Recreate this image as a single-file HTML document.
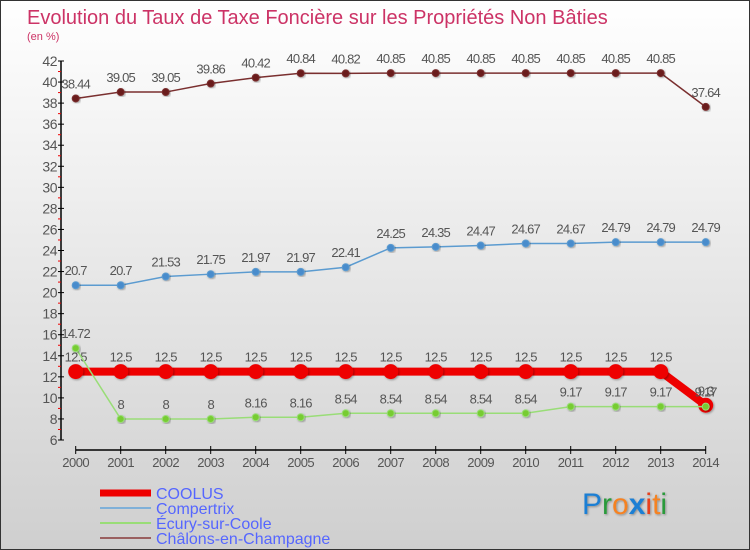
<!DOCTYPE html>
<html><head><meta charset="utf-8"><style>
body{margin:0;}
#wrap{position:relative;width:750px;height:550px;overflow:hidden;font-family:"Liberation Sans",sans-serif;}
</style></head><body>
<div id="wrap">
<svg id="chart" width="750" height="550" xmlns="http://www.w3.org/2000/svg" font-family="'Liberation Sans',sans-serif">
<defs>
<linearGradient id="bg" x1="0" y1="0" x2="0" y2="1"><stop offset="0" stop-color="#ffffff"/><stop offset="1" stop-color="#cfcfcf"/></linearGradient>
<filter id="sh" x="-20%" y="-20%" width="140%" height="140%"><feDropShadow dx="1" dy="1" stdDeviation="1" flood-color="#000" flood-opacity="0.35"/></filter>
</defs>
<rect x="0.5" y="0.5" width="749" height="549" fill="url(#bg)" stroke="#333"/>
<text x="27" y="24" font-size="20" fill="#cc3366">Evolution du Taux de Taxe Foncière sur les Propriétés Non Bâties</text>
<text x="27" y="40" font-size="11" fill="#cc3366">(en %)</text>
<g id="axes"></g>
<g id="series"></g>
<g id="legend"></g>
<g font-size="30" filter="url(#sh)">
<text x="582" y="514"><tspan fill="#1a7fd4">P</tspan><tspan fill="#2a9a3a">r</tspan><tspan fill="#f58220">o</tspan><tspan fill="#1a7fd4" font-weight="bold">x</tspan><tspan fill="#e8401c">i</tspan><tspan fill="#f58220">t</tspan><tspan fill="#2a9a3a">i</tspan></text>
</g>
</svg>
</div>
<script>
const years = [2000,2001,2002,2003,2004,2005,2006,2007,2008,2009,2010,2011,2012,2013,2014];
const coolus = [12.5,12.5,12.5,12.5,12.5,12.5,12.5,12.5,12.5,12.5,12.5,12.5,12.5,12.5,9.3];
const compertrix = [20.7,20.7,21.53,21.75,21.97,21.97,22.41,24.25,24.35,24.47,24.67,24.67,24.79,24.79,24.79];
const ecury = [14.72,8,8,8,8.16,8.16,8.54,8.54,8.54,8.54,8.54,9.17,9.17,9.17,9.17];
const chalons = [38.44,39.05,39.05,39.86,40.42,40.84,40.82,40.85,40.85,40.85,40.85,40.85,40.85,40.85,37.64];
const yTicks = [6,8,10,12,14,16,18,20,22,24,26,28,30,32,34,36,38,40,42];
const seriesNames = ["COOLUS","Compertrix","Écury-sur-Coole","Châlons-en-Champagne"];

const NS="http://www.w3.org/2000/svg";
const x = i => 75.7 + i*45;
const y = v => 440 - (v-6)*(379/36);
function mk(tag, attrs, parent){const e=document.createElementNS(NS,tag);for(const k in attrs)e.setAttribute(k,attrs[k]);parent.appendChild(e);return e;}
const axes=document.getElementById('axes'), sg=document.getElementById('series'), lg=document.getElementById('legend');

let yl=mk('line',{x1:61,y1:y(42),x2:61,y2:y(6),stroke:'#000','stroke-width':1.5},axes);


yTicks.forEach(t=>{
  mk('line',{x1:58,y1:y(t),x2:64,y2:y(t),stroke:'#000'},axes);
  if(t<42){mk('line',{x1:58,y1:y(t+1),x2:61,y2:y(t+1),stroke:'#e00'},axes);}
  const tx=mk('text',{x:57,y:y(t)+5,'font-size':14,fill:'#555','text-anchor':'end','letter-spacing':'-0.5'},axes);
  tx.textContent=t;
  
  
});
let xl=mk('line',{x1:x(0),y1:450,x2:x(14),y2:450,stroke:'#000','stroke-width':1.5},axes);


years.forEach((yr,i)=>{
  mk('line',{x1:x(i),y1:446,x2:x(i),y2:454,stroke:'#000'},axes);
  const tx=mk('text',{x:x(i),y:467,'font-size':13,fill:'#555','text-anchor':'middle','letter-spacing':'-0.5'},axes);
  tx.textContent=yr;
  
  
});

function drawSeries(vals, color, lw, r, fill, name){
  const g=mk('g',{},sg);
  
  
  const pl=mk('polyline',{points:vals.map((v,i)=>x(i)+','+y(v)).join(' '),fill:'none',stroke:color,'stroke-width':lw},g);
  
  
  vals.forEach((v,i)=>{
    const c=mk('circle',{cx:x(i),cy:y(v),r:r,fill:fill,stroke:color,'stroke-width':1,filter:'url(#sh)'},g);
    
    
    const t=mk('text',{x:x(i),y:y(v)-10,'font-size':13,fill:'#555','text-anchor':'middle','letter-spacing':'-0.8'},g);
    t.textContent=String(v);
    
    
  });
}
drawSeries(chalons,'#7a2f2f',1.5,3.5,'#6b1c1c','chalons');
drawSeries(compertrix,'#5b9bd0',1.5,3.5,'#4a8ccc','compertrix');
drawSeries(coolus,'#ee0000',8,7,'#ee0000','coolus');
drawSeries(ecury,'#99dd77',1.5,3.5,'#77cc33','ecury');

const lcol=['#ee0000','#7fb0d8','#99dd77','#9a6060'];
const lw=[7,2,2,2];
seriesNames.forEach((n,i)=>{
  const yy=493+i*15;
  const l=mk('line',{x1:100,y1:yy,x2:151,y2:yy,stroke:lcol[i],'stroke-width':lw[i]},lg);
  
  
  const t=mk('text',{x:156,y:yy+6,'font-size':16,fill:'#5566ff'},lg);
  t.textContent=n;
  
  
});
</script>
</body></html>
